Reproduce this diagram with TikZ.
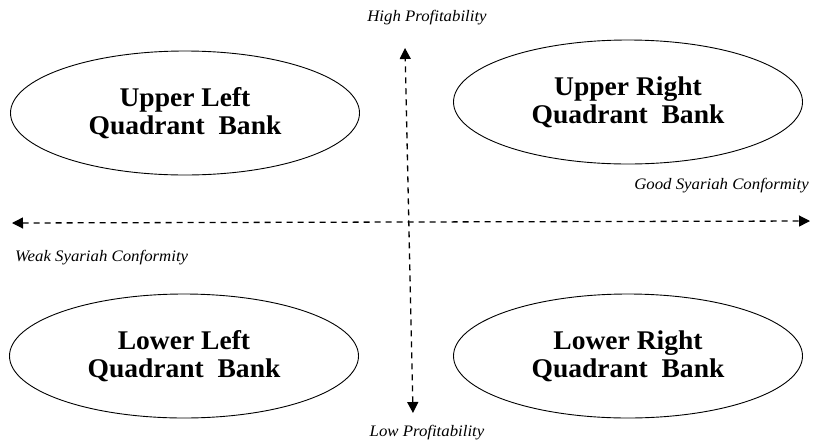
\documentclass[tikz,border=0pt]{standalone}
\usepackage{fontspec}
\setmainfont{Liberation Serif}
\newfontfamily\boxfont[FakeStretch=1.02]{Liberation Serif}
\newfontfamily\labfont[FakeStretch=1.05]{Liberation Serif}
\usetikzlibrary{shapes.geometric,arrows.meta}
\begin{document}
\begin{tikzpicture}[x=1pt,y=-1pt,
  quad/.style={draw, ellipse, line width=0.9pt, minimum width=349pt, minimum height=124pt,
    inner sep=0pt, align=center, font=\boxfont\bfseries\fontsize{27}{28}\selectfont},
  axis/.style={line width=1.3pt, dash pattern=on 6pt off 5pt,
    {Triangle[length=11pt,width=11pt]}-{Triangle[length=11pt,width=11pt]}},
  lab/.style={inner sep=0pt, font=\labfont\itshape\fontsize{16}{18}\selectfont}]
\useasboundingbox (0,0) rectangle (816,445);
\fill[white] (0,0) rectangle (816,445);
\node[quad] (ul) at (185,113) {Upper Left\\Quadrant\ \ Bank};
\node[quad] (ur) at (628,102) {Upper Right\\Quadrant\ \ Bank};
\node[quad] (ll) at (184,356) {Lower Left\\Quadrant\ \ Bank};
\node[quad] (lr) at (628,356) {Lower Right\\Quadrant\ \ Bank};
\coordinate (top) at (405,48);
\coordinate (bot) at (413,413);
\coordinate (lft) at (12,223);
\coordinate (rgt) at (810,221);
\draw[axis] (bot) -- (top);
\draw[axis] (lft) -- (rgt);
\node[lab] (hp) at (427,18) {High Profitability};
\node[lab] (lp) at (427,433) {Low Profitability};
\node[lab, anchor=east] (gs) at (809,186) {Good Syariah Conformity};
\node[lab, anchor=west] (ws) at (15,258) {Weak Syariah Conformity};
\end{tikzpicture}
\end{document}
